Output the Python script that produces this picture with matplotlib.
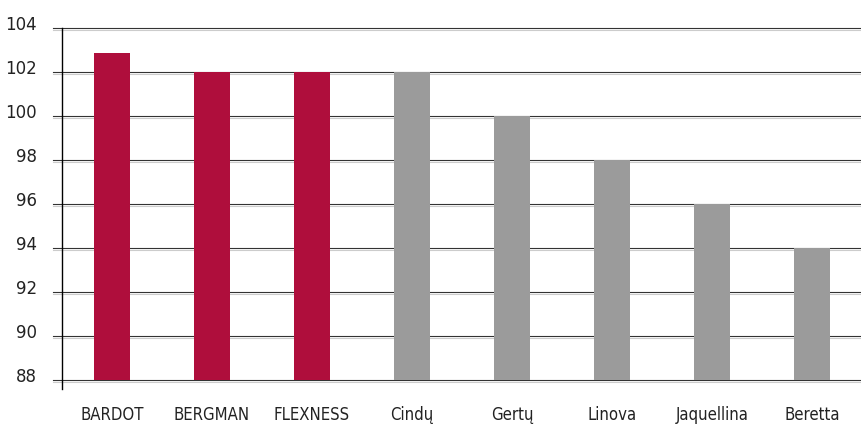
import matplotlib.pyplot as plt
import matplotlib.patheffects as pe
from matplotlib.transforms import ScaledTranslation

# 데이터
brands = ['BARDOT', 'BERGMAN', 'FLEXNESS', 'Cindy', 'Gerty', 'Linova', 'Jaquellina', 'Beretta']
brand_labels = ['BARDOT', 'BERGMAN', 'FLEXNESS', 'Cindų', 'Gertų', 'Linova', 'Jaquellina', 'Beretta']
scores = [102.85, 102, 102, 102, 100, 98, 96, 94]
highlight = [True, True, True, False, False, False, False, False]
y_ticks = [88, 90, 92, 94, 96, 98, 100, 102, 104]

red = '#AF0E3C'
gray = '#9B9B9B'
colors = [red if h else gray for h in highlight]

plt.rcParams['font.family'] = ['DejaVu Sans']

fig = plt.figure(figsize=(8.62, 4.25), dpi=100)
ax = fig.add_axes([62 / 862, 45 / 425, 800 / 862, 352 / 425])

x = list(range(len(brands)))
ax.bar(x, [s - 88 for s in scores], bottom=88, width=0.36, color=colors, zorder=3)

ax.set_xlim(-0.5, len(brands) - 0.5)
ax.set_ylim(88, 104)

# 격자선 (아래쪽 옅은 그림자)
shadow = [pe.SimpleLineShadow(offset=(0, -1.1), shadow_color='#cccccc', alpha=1, rho=1), pe.Normal()]
for yv in y_ticks:
    ax.axhline(yv, color='#333333', lw=0.8, zorder=1, path_effects=shadow, clip_on=False)
    ax.plot([-0.5 - 9 / 100, -0.5], [yv, yv], color='#333333', lw=0.8, clip_on=False,
            path_effects=shadow, zorder=1)

ax.set_yticks(y_ticks)
ax.set_yticklabels([str(v) for v in y_ticks], fontsize=12, color='#222222')
ax.tick_params(axis='y', length=0, pad=18)
# y 라벨을 선보다 살짝 위로
for lbl in ax.get_yticklabels():
    lbl.set_transform(lbl.get_transform() + ScaledTranslation(0, 4.5 / 100, fig.dpi_scale_trans))

ax.set_xticks(x)
ax.set_xticklabels(brand_labels, fontsize=12, color='#222222', fontstretch='condensed')
ax.tick_params(axis='x', length=0, pad=19)

for side in ['top', 'right', 'bottom']:
    ax.spines[side].set_visible(False)
ax.spines['left'].set_bounds(87.6, 104)
ax.spines['left'].set_color('black')
ax.spines['left'].set_linewidth(1)

fig.savefig('out.png', dpi=100)
